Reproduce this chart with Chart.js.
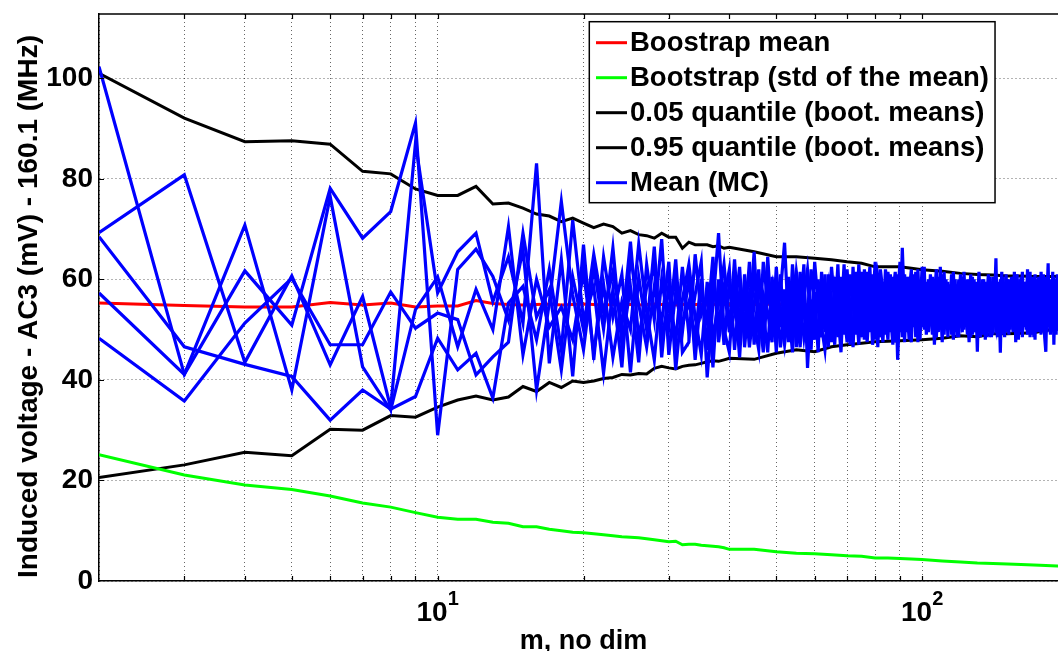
<!DOCTYPE html>
<html>
<head>
<meta charset="utf-8">
<title>Induced voltage vs m</title>
<script src="https://cdn.jsdelivr.net/npm/chart.js@4.4.1/dist/chart.umd.min.js"></script>
<style>
  html, body { margin: 0; padding: 0; background: #fff; overflow: hidden; }
  #wrap { position: relative; width: 1070px; height: 651px; }
</style>
</head>
<body>
<div id="wrap"><canvas id="chart" width="1070" height="651"></canvas></div>
<script>
// ---- sample sizes used for the bootstrap statistics ----
const mSmooth = [2,3,4,5,6,7,8,9,10,11,12,13,14,15,16,17,18,19,20,21,22,23,24,25,26,27,28,29,30,31,32,33,34,35,36,37,38,39,40,
  45,50,55,60,65,70,75,80,85,90,95,100,110,120,130,140,150,160,170,180,190,200];

const bootMean = [55.3,54.8,54.5,54.5,55.4,54.9,55.3,54.5,54.7,54.7,55.8,
  55.2,55.0,54.9,55.0,55.1,54.9,55.0,55.1,55.0,54.9,
  55.0,55.1,55.0,54.9,55.0,55.1,55.0,55.0,54.9,55.0,
  55.1,55.0,55.0,54.9,55.0,55.1,55.0,55.0,
  55.0,55.1,54.9,55.0,55.0,55.1,55.0,54.9,55.0,55.0,55.1,55.0,
  55.0,54.9,55.0,55.0,55.1,55.0,55.0,54.9,55.0,55.0];

const bootStd = [25.1,21.1,19.1,18.2,16.9,15.5,14.7,13.6,12.7,12.3,12.3,
  11.7,11.5,10.8,10.8,10.3,10.0,9.7,9.6,9.4,9.2,
  9.0,8.8,8.7,8.6,8.4,8.2,8.0,7.8,7.9,7.2,
  7.3,7.3,7.1,7.0,6.9,6.8,6.6,6.3,
  6.3,5.8,5.5,5.4,5.2,5.0,4.9,4.6,4.6,4.5,4.4,4.3,
  4.0,3.8,3.6,3.5,3.4,3.3,3.2,3.1,3.0,2.9];

const quantile05 = [20.6,23.1,25.6,24.9,30.2,30.0,32.9,32.6,34.6,36.0,36.8,
  36.0,36.6,38.7,37.7,39.5,38.5,39.8,39.5,39.8,40.3,
  40.5,41.1,41.0,41.3,41.2,42.3,42.7,42.4,42.2,42.7,
  42.9,43.0,43.3,43.6,43.8,43.7,44.0,44.3,
  44.1,45.3,46.0,45.6,46.6,47.0,47.3,47.6,47.7,47.8,47.9,48.0,
  48.3,48.8,48.6,49.2,49.2,49.3,49.4,49.9,50.1,50.2];

const quantile95 = [101.0,92.1,87.4,87.6,86.9,81.5,81.0,78.0,76.7,76.7,78.5,
  75.0,75.2,74.2,73.0,72.6,71.5,72.2,71.2,70.3,71.0,
  70.5,69.2,69.7,68.9,68.7,68.2,69.2,68.4,68.4,66.2,
  67.4,66.9,66.9,66.9,66.5,66.7,66.2,66.4,
  65.5,64.5,64.5,64.2,63.9,63.5,63.2,62.5,62.5,62.5,62.2,61.9,
  61.6,61.2,61.0,60.9,60.7,60.7,60.6,60.6,60.6,60.5];

// ---- Monte Carlo means, one value per m = 2 .. 200 ----
const mcRun1 = [102.3,41.1,61.7,50.9,78.1,68.2,73.5,91.1,29.0,62.0,66.0,
  60.6,51.9,65.9,38.0,55.3,75.5,56.9,46.0,62.5,50.1,
  66.3,47.0,58.5,43.5,63.0,52.0,68.0,45.0,57.5,49.5,
  61.0,44.0,58.0,51.5,64.5,47.5,56.0,62.0,46.0,57.5,
  50.5,63.5,47.0,59.0,53.5,45.5,60.5,52.0,57.5,67.3,
  51.0,58.5,46.5,61.5,53.0,49.0,62.0,55.5,47.5,58.0,
  49.5,61.0,54.5,47.0,59.5,52.0,63.0,50.5,56.0,46.5,
  59.0,52.5,61.5,48.0,55.5,62.5,50.0,57.0,46.5,60.0,
  54.5,49.0,58.5,52.0,60.5,47.5,56.0,63.5,51.0,57.0,
  49.5,60.5,54.0,57.5,48.5,62.0,52.5,56.0,50.0,59.5,
  55.0,51.5,60.5,53.0,48.5,58.0,54.5,61.0,49.0,56.5,
  51.5,59.0,54.0,48.0,57.5,53.5,60.0,50.5,56.0,58.5,
  52.0,57.0,50.0,59.5,54.5,49.5,56.5,45.6,58.0,53.0,
  60.0,51.5,55.5,48.5,57.5,53.0,59.0,50.5,55.0,64.2,
  50.0,56.5,45.4,58.0,52.5,57.0,49.5,60.0,54.0,51.5,
  58.5,53.0,56.5,49.0,61.0,52.5,57.5,50.0,55.0,59.0,
  51.0,56.0,53.5,60.0,48.5,55.5,58.0,52.0,57.5,49.5,
  56.5,52.5,59.5,54.0,49.5,58.0,53.5,51.0,57.0,63.2,
  50.5,57.5,54.0,59.0,51.5,55.5,60.0,52.0,56.0,53.5,
  58.0,52.0,55.5,60.5,51.0,56.0,53.5,57.0];

const mcRun2 = [69.3,80.8,43.5,60.7,43.0,56.6,34.5,87.1,57.3,65.5,69.2,
  55.6,64.5,51.3,83.1,43.3,63.9,40.7,66.9,44.0,64.5,
  52.5,61.0,41.5,60.5,50.0,66.5,44.5,59.0,47.5,62.5,
  49.0,57.0,63.5,40.5,55.0,69.2,50.0,45.5,60.5,52.0,
  58.5,46.5,55.0,62.0,48.0,64.5,51.0,56.0,46.5,54.5,
  60.5,48.5,57.5,52.5,63.0,42.4,56.0,50.5,60.0,53.0,
  57.5,51.0,62.5,55.0,48.5,60.5,53.5,47.5,61.0,55.5,
  49.0,63.0,54.0,58.5,47.5,56.0,61.0,51.5,59.5,53.0,
  47.5,60.0,55.5,49.5,57.0,61.5,44.0,55.0,59.5,50.5,
  58.0,52.5,47.5,61.0,55.0,50.0,59.5,53.0,62.5,49.0,
  54.5,59.5,50.5,57.0,62.0,51.5,56.0,47.5,58.5,53.0,
  59.5,50.0,57.0,61.5,52.5,56.5,48.5,58.0,53.0,50.0,
  56.5,51.5,58.5,53.0,49.0,60.0,52.5,57.0,50.5,59.0,
  51.5,57.5,50.0,58.5,54.0,48.5,56.0,60.5,52.0,50.5,
  58.0,52.0,57.0,50.0,60.5,51.5,56.5,53.0,49.0,58.5,
  52.0,56.5,50.5,59.5,54.0,48.0,55.5,60.5,52.5,50.5,
  58.0,53.0,49.0,57.0,61.5,51.5,54.5,59.5,50.5,56.0,
  52.0,57.5,50.0,58.5,55.0,52.0,60.5,55.5,49.5,54.0,
  59.5,53.0,56.5,50.5,58.0,53.0,49.0,57.5,54.5,59.0,
  51.5,56.0,60.0,53.0,57.0,50.5,58.0,54.0];

const mcRun3 = [68.5,46.6,43.1,40.7,32.0,38.0,34.2,36.7,48.3,42.0,45.3,
  36.4,55.3,58.6,48.0,62.0,46.0,71.8,52.0,58.5,41.4,
  58.0,42.5,64.5,55.0,46.5,58.5,51.5,63.5,42.0,56.0,
  63.0,52.5,45.0,59.5,48.5,55.5,63.0,51.5,57.0,44.5,
  61.0,52.0,65.5,49.0,57.0,53.5,47.5,62.5,50.5,58.0,
  47.5,63.0,53.5,46.5,58.0,60.5,50.0,57.5,45.5,61.5,
  54.0,58.5,47.5,60.5,52.0,56.5,49.0,62.0,51.5,59.0,
  55.5,47.0,59.0,52.5,61.5,49.5,54.5,63.5,52.0,48.5,
  59.5,53.0,48.0,61.0,51.5,55.0,59.0,49.5,66.3,53.5,
  51.5,57.5,62.0,50.5,56.5,53.0,48.0,60.0,55.5,57.0,
  49.5,55.0,58.0,47.0,55.5,60.5,50.0,56.0,61.5,51.0,
  55.0,57.5,49.0,54.0,60.0,48.5,55.5,61.0,49.5,57.0,
  50.5,60.0,54.5,48.5,57.0,53.0,59.5,51.0,56.0,48.5,
  55.0,49.0,59.5,53.5,50.0,58.0,52.0,55.5,58.5,49.5,
  53.5,59.5,51.0,55.5,49.0,58.5,53.0,50.5,60.0,55.0,
  51.5,60.5,54.0,52.0,57.5,55.5,49.5,56.0,61.5,53.5,
  55.5,50.0,58.5,53.0,55.0,60.0,49.0,54.0,61.0,52.5,
  57.5,49.5,56.0,61.5,51.5,56.5,50.5,58.0,55.0,51.0,
  54.5,58.5,49.5,55.0,60.5,50.0,56.0,53.5,58.5,51.0,
  56.0,60.5,52.5,56.5,53.5,58.5,51.5,55.5];

const mcRun4 = [57.3,41.1,70.8,38.0,76.5,42.6,34.0,54.0,60.5,46.6,58.0,
  50.0,70.5,45.0,60.0,50.5,54.5,48.0,61.5,45.5,59.0,
  44.5,55.5,50.0,67.0,53.5,44.0,60.0,50.5,64.0,45.5,
  47.5,65.0,53.0,57.0,42.5,60.0,47.0,58.5,53.5,62.5,
  46.5,57.0,51.5,46.0,63.5,55.5,59.0,45.5,61.0,49.5,
  57.0,52.0,61.5,55.5,48.5,54.5,46.0,63.5,55.0,48.5,
  61.0,46.5,56.0,51.5,63.0,48.0,57.0,54.0,47.0,62.5,
  52.0,58.0,48.5,62.0,54.0,59.0,47.0,53.5,60.5,56.5,
  51.0,62.0,57.0,53.5,47.0,58.5,52.5,57.5,48.5,61.0,
  55.0,48.0,58.5,53.5,61.5,47.5,56.5,50.5,58.0,52.5,
  60.0,53.5,49.0,58.5,52.0,55.0,59.5,52.5,54.0,60.0,
  48.5,54.5,61.0,55.0,49.5,59.0,53.0,51.5,60.5,53.5,
  58.5,53.5,47.5,56.0,60.5,51.5,55.0,58.5,49.0,55.5,
  53.0,60.0,52.5,56.5,61.0,50.5,54.5,49.0,56.5,58.0,
  55.5,49.5,60.0,53.0,56.5,48.5,61.0,55.0,52.5,57.0,
  60.5,49.5,57.5,55.0,50.5,59.5,53.5,58.0,48.5,56.0,
  52.5,59.5,55.0,50.5,57.5,52.0,60.5,48.5,55.5,58.5,
  50.0,58.0,53.5,49.0,59.5,54.5,57.0,52.0,60.0,56.5,
  53.0,49.0,60.0,54.5,52.5,58.5,54.5,61.0,50.0,55.5,
  59.5,51.5,57.0,49.5,58.5,54.0,56.5,52.0];

const mcRun5 = [48.3,35.8,51.3,60.2,47.0,47.0,57.5,50.3,53.3,52.0,41.0,
  44.6,47.5,69.2,52.5,58.0,42.0,60.5,50.0,65.0,53.5,
  61.5,50.5,67.5,48.0,58.5,62.0,49.0,54.5,59.5,51.0,
  55.5,48.5,60.0,46.0,61.0,51.0,58.5,49.5,64.0,48.5,
  56.0,49.5,60.5,54.5,45.5,59.0,54.0,60.0,53.0,47.0,
  54.5,45.5,59.5,49.0,56.5,62.0,53.5,48.0,59.0,50.5,
  46.0,55.5,50.0,58.0,53.5,45.5,59.5,57.0,52.5,49.5,
  61.5,54.0,50.5,56.5,59.0,51.0,57.5,48.0,55.0,62.0,
  57.5,50.5,61.5,56.0,59.5,50.0,61.0,52.0,55.5,47.5,
  60.5,54.5,51.0,59.0,49.5,57.0,54.0,62.5,51.5,55.5,
  52.0,61.0,55.5,50.5,57.5,49.5,62.5,54.5,50.5,58.0,
  56.5,52.0,50.5,58.5,54.0,51.0,57.5,54.0,51.5,61.5,
  54.0,49.0,56.5,61.0,52.0,57.5,49.5,54.5,61.5,52.5,
  57.5,54.0,48.0,55.0,52.5,60.5,48.5,57.5,51.0,54.5,
  48.5,57.0,54.0,61.5,51.0,55.0,52.5,58.5,56.0,50.0,
  55.0,52.5,61.5,47.5,56.0,53.0,60.0,51.5,57.0,54.5,
  59.5,54.5,62.0,51.5,53.0,57.5,52.0,56.5,48.0,60.0,
  54.5,60.5,51.5,56.0,53.5,61.0,48.5,45.6,56.5,52.5,
  57.0,55.5,52.0,61.5,47.0,56.5,53.0,50.0,60.5,56.0,
  53.0,57.5,50.5,55.5,61.0,52.5,55.0,59.5];

// ---- axes ----
const yTickValues = [0, 20, 40, 60, 80, 100];
const xGridValues = [2, 3, 4, 5, 6, 7, 8, 9, 10, 20, 30, 40, 50, 60, 70, 80, 90, 100];
const xLabelValues = [10, 100];
const xLabelBase = ['10', '10'];
const xLabelExponent = ['1', '2'];

const legendLabels = ['Boostrap mean', 'Bootstrap (std of the mean)',
  '0.05 quantile (boot. means)', '0.95 quantile (boot. means)', 'Mean (MC)'];
const seriesColors = ['#ff0000', '#00ff00', '#000000', '#000000', '#0000ff'];

const FONT = '"Liberation Sans", Arial, Helvetica, sans-serif';
const mcM = mcRun1.map((_, i) => i + 2);

function toPoints(xs, ys) { return ys.map((y, i) => ({ x: xs[i], y })); }

function lineSet(label, xs, ys, color, order, width) {
  return {
    label, data: toPoints(xs, ys), borderColor: color, backgroundColor: color,
    borderWidth: width, pointRadius: 0, fill: false, tension: 0, order,
    borderJoinStyle: 'miter'
  };
}

const datasets = [
  lineSet(legendLabels[0], mSmooth, bootMean, seriesColors[0], 2, 3),
  lineSet(legendLabels[1], mSmooth, bootStd, seriesColors[1], 2, 3),
  lineSet(legendLabels[2], mSmooth, quantile05, seriesColors[2], 2, 3),
  lineSet(legendLabels[3], mSmooth, quantile95, seriesColors[3], 2, 3),
  lineSet(legendLabels[4], mcM, mcRun1, seriesColors[4], 1, 3.2),
  lineSet('MC run 2', mcM, mcRun2, seriesColors[4], 1, 3.2),
  lineSet('MC run 3', mcM, mcRun3, seriesColors[4], 1, 3.2),
  lineSet('MC run 4', mcM, mcRun4, seriesColors[4], 1, 3.2),
  lineSet('MC run 5', mcM, mcRun5, seriesColors[4], 1, 3.2)
];

// frame on top, inward tick marks, x labels with exponents, axis titles and boxed legend
const decorations = {
  id: 'decorations',
  afterDraw(chart) {
    const { ctx, chartArea: ca, scales: { x, y } } = chart;
    ctx.save();
    ctx.strokeStyle = '#000';
    ctx.lineWidth = 1.5;
    ctx.beginPath();
    ctx.moveTo(ca.left, ca.top); ctx.lineTo(ca.right, ca.top);
    ctx.moveTo(ca.right, ca.top); ctx.lineTo(ca.right, ca.bottom);
    ctx.stroke();

    ctx.lineWidth = 1.2;
    ctx.beginPath();
    xGridValues.forEach(v => {
      if (v <= x.min) return;
      const px = Math.round(x.getPixelForValue(v)) + 0.5;
      ctx.moveTo(px, ca.bottom); ctx.lineTo(px, ca.bottom - 5);
      ctx.moveTo(px, ca.top); ctx.lineTo(px, ca.top + 5);
    });
    yTickValues.forEach(v => {
      if (v <= y.min) return;
      const py = Math.round(y.getPixelForValue(v)) + 0.5;
      ctx.moveTo(ca.left, py); ctx.lineTo(ca.left + 5, py);
      ctx.moveTo(ca.right, py); ctx.lineTo(ca.right - 5, py);
    });
    ctx.stroke();

    // x tick labels: 10 with superscript exponent
    ctx.fillStyle = '#000';
    ctx.textBaseline = 'alphabetic';
    ctx.textAlign = 'left';
    xLabelValues.forEach((v, i) => {
      const px = x.getPixelForValue(v);
      ctx.font = 'bold 28px ' + FONT;
      const wb = ctx.measureText(xLabelBase[i]).width;
      ctx.font = 'bold 20px ' + FONT;
      const we = ctx.measureText(xLabelExponent[i]).width;
      const x0 = px - (wb + we) / 2;
      ctx.font = 'bold 28px ' + FONT;
      ctx.fillText(xLabelBase[i], x0, ca.bottom + 40);
      ctx.font = 'bold 20px ' + FONT;
      ctx.fillText(xLabelExponent[i], x0 + wb, ca.bottom + 24);
    });

    // axis titles
    ctx.font = 'bold 27px ' + FONT;
    ctx.textAlign = 'center';
    ctx.fillText('m, no dim', (ca.left + ca.right) / 2, ca.bottom + 67.5);
    ctx.save();
    ctx.font = 'bold 28px ' + FONT;
    ctx.translate(37, (ca.top + ca.bottom) / 2 + 9);
    ctx.rotate(-Math.PI / 2);
    ctx.fillText('Induced voltage - AC3 (mV) - 160.1 (MHz)', 0, 0);
    ctx.restore();

    // legend box
    ctx.font = 'bold 27.5px ' + FONT;
    const textW = Math.max(...legendLabels.map(t => ctx.measureText(t).width));
    const boxLeft = ca.left + 490.3;
    const boxTop = ca.top + 7.7;
    const sampleX0 = boxLeft + 6.7, sampleX1 = boxLeft + 37.7, textX = boxLeft + 40.7;
    const boxW = 40.7 + textW + 6;
    const rowH = 35, firstRow = boxTop + 21;
    const boxH = rowH * legendLabels.length + 6;
    ctx.fillStyle = '#fff';
    ctx.fillRect(boxLeft, boxTop, boxW, boxH);
    ctx.lineWidth = 1.5;
    ctx.strokeStyle = '#000';
    ctx.strokeRect(boxLeft, boxTop, boxW, boxH);
    ctx.textAlign = 'left';
    ctx.textBaseline = 'middle';
    legendLabels.forEach((t, i) => {
      const ry = firstRow + i * rowH;
      ctx.strokeStyle = seriesColors[i];
      ctx.lineWidth = 3;
      ctx.beginPath(); ctx.moveTo(sampleX0, ry); ctx.lineTo(sampleX1, ry); ctx.stroke();
      ctx.fillStyle = '#000';
      ctx.fillText(t, textX, ry + 1);
    });
    ctx.restore();
  }
};

const gridStyle = { color: 'rgba(0,0,0,0.6)', lineWidth: 1, drawTicks: false };
const borderStyle = { display: true, color: '#000', width: 1.5, dash: [1, 3] };

new Chart(document.getElementById('chart'), {
  type: 'line',
  data: { datasets },
  options: {
    responsive: false,
    animation: false,
    devicePixelRatio: 1,
    layout: { padding: { top: 14, right: 2, left: 0, bottom: 0 } },
    plugins: { legend: { display: false }, tooltip: { enabled: false } },
    elements: { line: { capBezierPoints: false } },
    scales: {
      x: {
        type: 'logarithmic', min: 2, max: 200,
        afterBuildTicks: s => { s.ticks = xGridValues.map(v => ({ value: v })); },
        afterFit: s => { s.height = 70; s.paddingLeft = 0; s.paddingRight = 0; },
        ticks: { display: false, autoSkip: false },
        grid: gridStyle,
        border: borderStyle
      },
      y: {
        type: 'linear', min: 0, max: 112.8,
        afterBuildTicks: s => { s.ticks = yTickValues.map(v => ({ value: v })); },
        afterFit: s => { s.width = 99; s.paddingTop = 0; s.paddingBottom = 0; },
        ticks: { autoSkip: false, padding: 6, color: '#000',
          font: { family: FONT, size: 28, weight: 'bold' } },
        grid: gridStyle,
        border: borderStyle
      }
    }
  },
  plugins: [decorations]
});
</script>
</body>
</html>
